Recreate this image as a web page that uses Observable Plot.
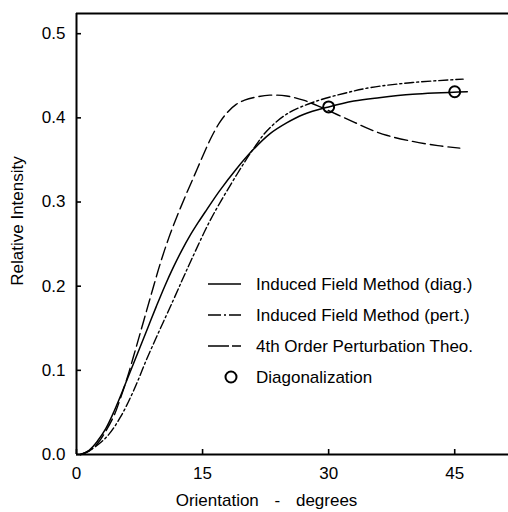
<!DOCTYPE html>
<html>
<head>
<meta charset="utf-8">
<script src="https://cdn.jsdelivr.net/npm/d3@7"></script>
<script src="https://cdn.jsdelivr.net/npm/@observablehq/plot@0.6"></script>
<style>
  html, body { margin: 0; padding: 0; background: #fff; }
  #wrap { position: relative; width: 508px; height: 512px; }
  #legend { position: absolute; left: 0; top: 0; pointer-events: none; }
</style>
</head>
<body>
<div id="wrap"></div>
<script>
// ---- data ----
const xTicks = [0, 15, 30, 45];
const yTicks = [0, 0.1, 0.2, 0.3, 0.4, 0.5];

// Induced Field Method (diag.) - solid
const diagX = [0.5, 1.5, 2.5, 3.5, 4.5, 5.5, 6.5, 7.5, 8.5, 9.5, 10.5, 11.5, 12.5, 13.5, 14.5, 15.5, 17, 19, 21, 23, 25, 27, 30, 33, 36, 40, 46.5];
const diagY = [0, 0.005, 0.016, 0.031, 0.052, 0.076, 0.101, 0.126, 0.151, 0.176, 0.200, 0.222, 0.242, 0.260, 0.276, 0.291, 0.313, 0.339, 0.362, 0.381, 0.394, 0.404, 0.413, 0.420, 0.424, 0.428, 0.431];

// Induced Field Method (pert.) - dash-dot
const pertX = [0.5, 1.6, 3.6, 5.2, 6.8, 8.3, 9.9, 11.5, 12.7, 13.7, 16.0, 19.1, 21.1, 22.7, 25.1, 28.3, 31.8, 35.0, 40.0, 46.0];
const pertY = [0, 0.005, 0.021, 0.044, 0.076, 0.112, 0.148, 0.183, 0.210, 0.232, 0.280, 0.333, 0.364, 0.385, 0.405, 0.419, 0.429, 0.436, 0.442, 0.446];

// 4th Order Perturbation Theo. - dashed
const p4X = [0.5, 1.5, 2.5, 3.5, 4.5, 5.2, 6, 7, 8, 9, 10, 11, 12, 13, 14, 15, 16, 17, 18, 19, 20, 21.5, 23, 25, 27, 29, 31, 33, 35, 37, 40, 43, 45.6];
const p4Y = [0, 0.004, 0.013, 0.028, 0.047, 0.066, 0.090, 0.124, 0.159, 0.194, 0.228, 0.258, 0.284, 0.308, 0.331, 0.354, 0.376, 0.394, 0.407, 0.416, 0.421, 0.425, 0.427, 0.426, 0.421, 0.413, 0.404, 0.395, 0.386, 0.379, 0.372, 0.367, 0.364];

// Diagonalization - circles
const diagonX = [30, 45];
const diagonY = [0.413, 0.431];

const legendLabels = [
  "Induced Field Method (diag.)",
  "Induced Field Method (pert.)",
  "4th Order Perturbation Theo.",
  "Diagonalization"
];
const xLabel = "Orientation - degrees";
const yLabel = "Relative Intensity";

// ---- styling ----
const FONT = "'Liberation Sans', Arial, sans-serif";
const dashDot = "9,3,2,3";
const dashed = "13,5";
const legendDash = [null, dashDot, dashed, "circle"];

const zip = (xs, ys) => xs.map((x, i) => ({x, y: ys[i]}));
const yMax = 0.524;

const chart = Plot.plot({
  width: 508,
  height: 512,
  marginLeft: 76,
  marginRight: 0,
  marginTop: 13,
  marginBottom: 58,
  style: {fontFamily: FONT, fontSize: "17px", color: "#000", background: "#fff"},
  x: {domain: [0, 51.4]},
  y: {domain: [0, yMax]},
  marks: [
    Plot.axisX({ticks: xTicks, tickSize: -5, tickPadding: 17, label: null, tickFormat: d3.format("d"), strokeWidth: 1.6}),
    Plot.axisY({ticks: yTicks, tickSize: -5, tickPadding: 16, label: null, tickFormat: d3.format(".1f"), strokeWidth: 1.6}),
    Plot.ruleX([0], {stroke: "#000", strokeWidth: 2}),
    Plot.ruleY([0], {stroke: "#000", strokeWidth: 2}),
    Plot.ruleY([yMax], {stroke: "#000", strokeWidth: 2.2}),
    Plot.line(zip(diagX, diagY), {x: "x", y: "y", curve: "catmull-rom", stroke: "#000", strokeWidth: 1.5}),
    Plot.line(zip(pertX, pertY), {x: "x", y: "y", curve: "catmull-rom", stroke: "#000", strokeWidth: 1.4, strokeDasharray: dashDot}),
    Plot.line(zip(p4X, p4Y), {x: "x", y: "y", curve: "catmull-rom", stroke: "#000", strokeWidth: 1.4, strokeDasharray: dashed}),
    Plot.dot(zip(diagonX, diagonY), {x: "x", y: "y", r: 5.5, stroke: "#000", strokeWidth: 2, fill: "none"}),
    Plot.text([xLabel], {frameAnchor: "bottom", textAnchor: "middle", lineAnchor: "middle", dx: -26, dy: 46, fontSize: 17, fill: "#000", text: d => d}),
    Plot.text([yLabel], {frameAnchor: "left", textAnchor: "middle", lineAnchor: "middle", dx: -59, dy: -13, rotate: -90, fontSize: 17, fill: "#000", text: d => d})
  ]
});

// wider word gaps in the x-axis title, as in the reference
d3.select(chart).selectAll("text").filter(function () { return this.textContent === xLabel; })
  .style("word-spacing", "11px");

const wrap = document.getElementById("wrap");
wrap.appendChild(chart);

// legend overlay
const leg = d3.select(wrap).append("svg")
  .attr("id", "legend")
  .attr("width", 508).attr("height", 512)
  .style("font-family", FONT).style("font-size", "17px");

const rowY0 = 284, rowStep = 31;
legendLabels.forEach((lab, i) => {
  const y = rowY0 + i * rowStep;
  const kind = legendDash[i];
  if (kind === "circle") {
    leg.append("circle").attr("cx", 231).attr("cy", y).attr("r", 5.5)
      .attr("fill", "none").attr("stroke", "#000").attr("stroke-width", 2);
  } else {
    const l = leg.append("line").attr("x1", 208).attr("x2", 241).attr("y1", y).attr("y2", y)
      .attr("stroke", "#000").attr("stroke-width", 1.4);
    if (kind) l.attr("stroke-dasharray", kind === dashed ? "21,3" : "13,3,2,3");
  }
  leg.append("text").attr("x", 256).attr("y", y).attr("dy", "0.35em")
    .attr("fill", "#000").text(lab);
});
</script>
</body>
</html>
